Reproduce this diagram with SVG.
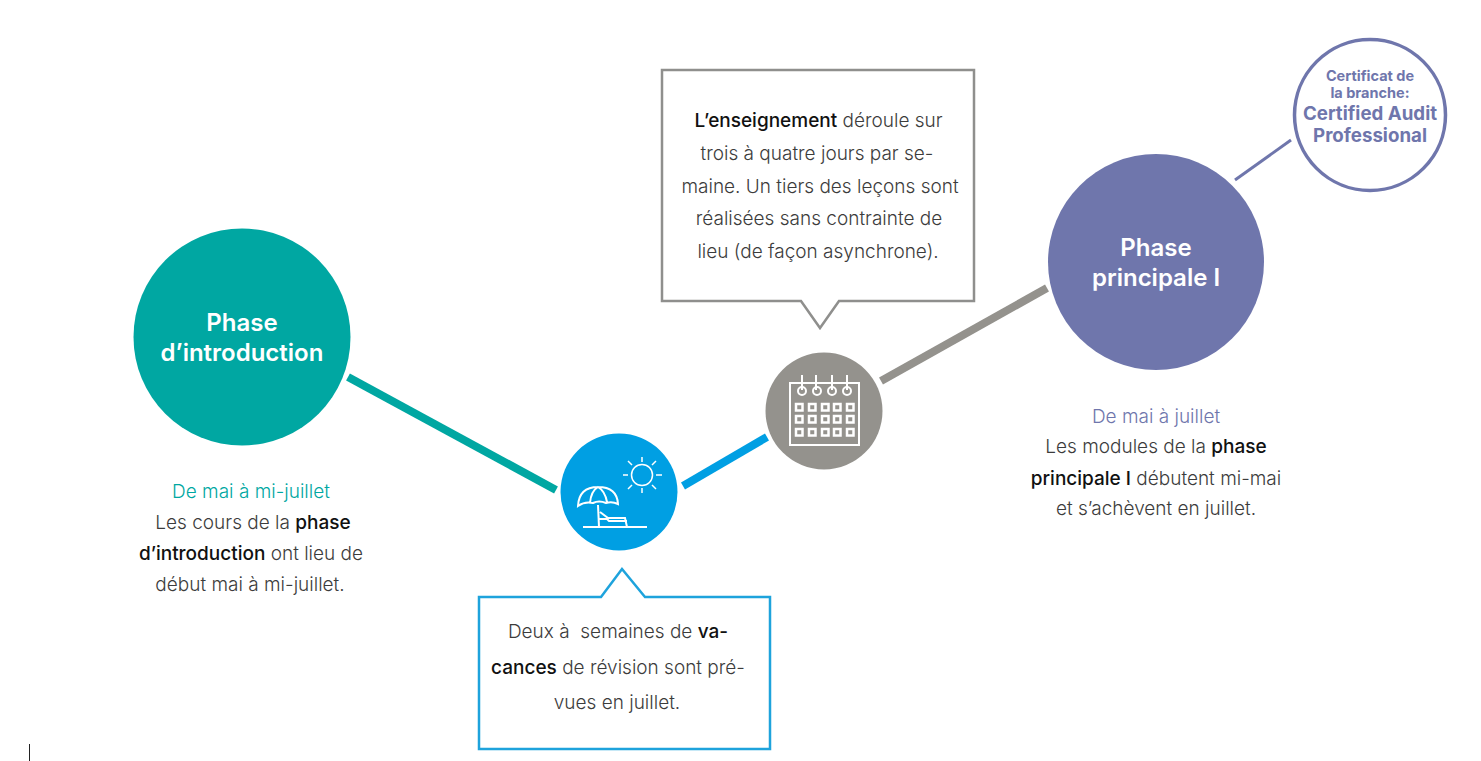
<svg xmlns="http://www.w3.org/2000/svg" width="1481" height="761" viewBox="0 0 1481 761">
<style>
text{font-family:"Inter","Liberation Sans",sans-serif;text-anchor:middle}
.b{font-size:19px;fill:#3c3c3c;font-weight:300;white-space:pre}
.s{font-weight:500;fill:#111}
.t{font-size:24px;font-weight:600;fill:#fff}
.ic{fill:none;stroke:#fff;stroke-width:2}
.thin{fill:none;stroke:#fff;stroke-width:1.500}
.cs{font-size:14.500px;font-weight:700;fill:#6f76ac}
.cl{font-size:18.700px;font-weight:700;fill:#6f76ac}
</style>
<rect width="1481" height="761" fill="#fff"/>
<g id="connectors" fill="none">
<line x1="348" y1="377" x2="556" y2="490" stroke="#00a7a2" stroke-width="8"/>
<line x1="683" y1="486" x2="767" y2="437" stroke="#009fe3" stroke-width="8"/>
<line x1="881" y1="381" x2="1047" y2="288" stroke="#94928d" stroke-width="8"/>
<line x1="1235" y1="180" x2="1291" y2="140" stroke="#6f76ac" stroke-width="3"/>
</g>
<g id="node-intro">
<circle cx="242" cy="337" r="108.500" fill="#00a7a2"/>
<text class="t" x="242" y="331">Phase</text>
<text class="t" x="242" y="361">d’introduction</text>
<text class="b" x="251" y="498" style="fill:#00a7a2">De mai à mi-juillet</text>
<text class="b" x="253" y="529">Les cours de la <tspan class="s">phase</tspan></text>
<text class="b" x="251" y="560"><tspan class="s">d’introduction</tspan> ont lieu de</text>
<text class="b" x="250" y="591">début mai à mi-juillet.</text>
</g>
<g id="node-vacances">
<circle cx="619" cy="492" r="58.500" fill="#009fe3"/>
<circle class="thin" cx="642" cy="475" r="10.500"/>
<path class="thin" d="M642 457v5M642 488v5M623 475h5M656 475h6M628 461l4 4M656 461l-4 4M628 489l4-4M656 489l-4-4"/>
<path class="ic" d="M578 506q1-19 20-19t20 17q-6-3-12-1q-7-3-13 0q-8-2-15 3zM590 503q1-12 8-16q7 4 9 15M598 505l1 22M600 512l8 6h17l2 9M599 519h8l2 2h18M583 527h64"/>
</g>
<g id="node-calendar">
<circle cx="824" cy="411" r="58.500" fill="#94928d"/>
<rect class="ic" x="790" y="383" width="69" height="62"/>
<path class="ic" d="M802 375v15M816 375v15M832 375v15M847 375v15"/>
<g class="ic"><circle cx="802" cy="391" r="4"/><circle cx="817" cy="391" r="4"/><circle cx="832" cy="391" r="4"/><circle cx="847" cy="391" r="4"/></g>
<g fill="none" stroke="#fff" stroke-width="2.500">
<rect x="796" y="404" width="6.500" height="6.500"/><rect x="809" y="404" width="6.500" height="6.500"/><rect x="822" y="404" width="6.500" height="6.500"/><rect x="834" y="404" width="6.500" height="6.500"/><rect x="847" y="404" width="6.500" height="6.500"/>
<rect x="796" y="416" width="6.500" height="6.500"/><rect x="809" y="416" width="6.500" height="6.500"/><rect x="822" y="416" width="6.500" height="6.500"/><rect x="834" y="416" width="6.500" height="6.500"/><rect x="847" y="416" width="6.500" height="6.500"/>
<rect x="796" y="429" width="6.500" height="6.500"/><rect x="809" y="429" width="6.500" height="6.500"/><rect x="822" y="429" width="6.500" height="6.500"/><rect x="834" y="429" width="6.500" height="6.500"/><rect x="847" y="429" width="6.500" height="6.500"/>
</g>
</g>
<g id="node-principale">
<circle cx="1156" cy="262" r="108" fill="#6f76ac"/>
<text class="t" x="1156" y="256">Phase</text>
<text class="t" x="1156" y="286">principale I</text>
<text class="b" x="1156" y="423" style="fill:#6f76ac">De mai à juillet</text>
<text class="b" x="1156" y="453">Les modules de la <tspan class="s">phase</tspan></text>
<text class="b" x="1156" y="485"><tspan class="s">principale I</tspan> débutent mi-mai</text>
<text class="b" x="1156" y="515">et s’achèvent en juillet.</text>
</g>
<g id="node-certificat">
<circle cx="1370" cy="115" r="75.500" fill="#fff" stroke="#6f76ac" stroke-width="3.500"/>
<text class="cs" x="1370" y="81">Certificat de</text>
<text class="cs" x="1370" y="98">la branche:</text>
<text class="cl" x="1370" y="120">Certified Audit</text>
<text class="cl" x="1370" y="142">Professional</text>
</g>
<g id="callout-enseignement">
<path d="M662 70H974V301H839L820 328L801 301H662Z" fill="#fff" stroke="#8f8f8d" stroke-width="2.500"/>
<text class="b" x="818.500" y="127"><tspan class="s">L’enseignement</tspan> déroule sur</text>
<text class="b" x="817" y="160">trois à quatre jours par se-</text>
<text class="b" x="820" y="193">maine. Un tiers des leçons sont</text>
<text class="b" x="819" y="225">réalisées sans contrainte de</text>
<text class="b" x="818" y="258">lieu (de façon asynchrone).</text>
</g>
<g id="callout-vacances">
<path d="M479 597H601L622 569L645 597H770V749H479Z" fill="#fff" stroke="#1ea3dc" stroke-width="2.500"/>
<text class="b" x="618" y="638">Deux à  semaines de <tspan class="s">va-</tspan></text>
<text class="b" x="618" y="674"><tspan class="s">cances</tspan> de révision sont pré-</text>
<text class="b" x="617" y="709">vues en juillet.</text>
</g>
<line id="caret" x1="29.500" y1="744" x2="29.500" y2="762" stroke="#222" stroke-width="1"/>
</svg>
